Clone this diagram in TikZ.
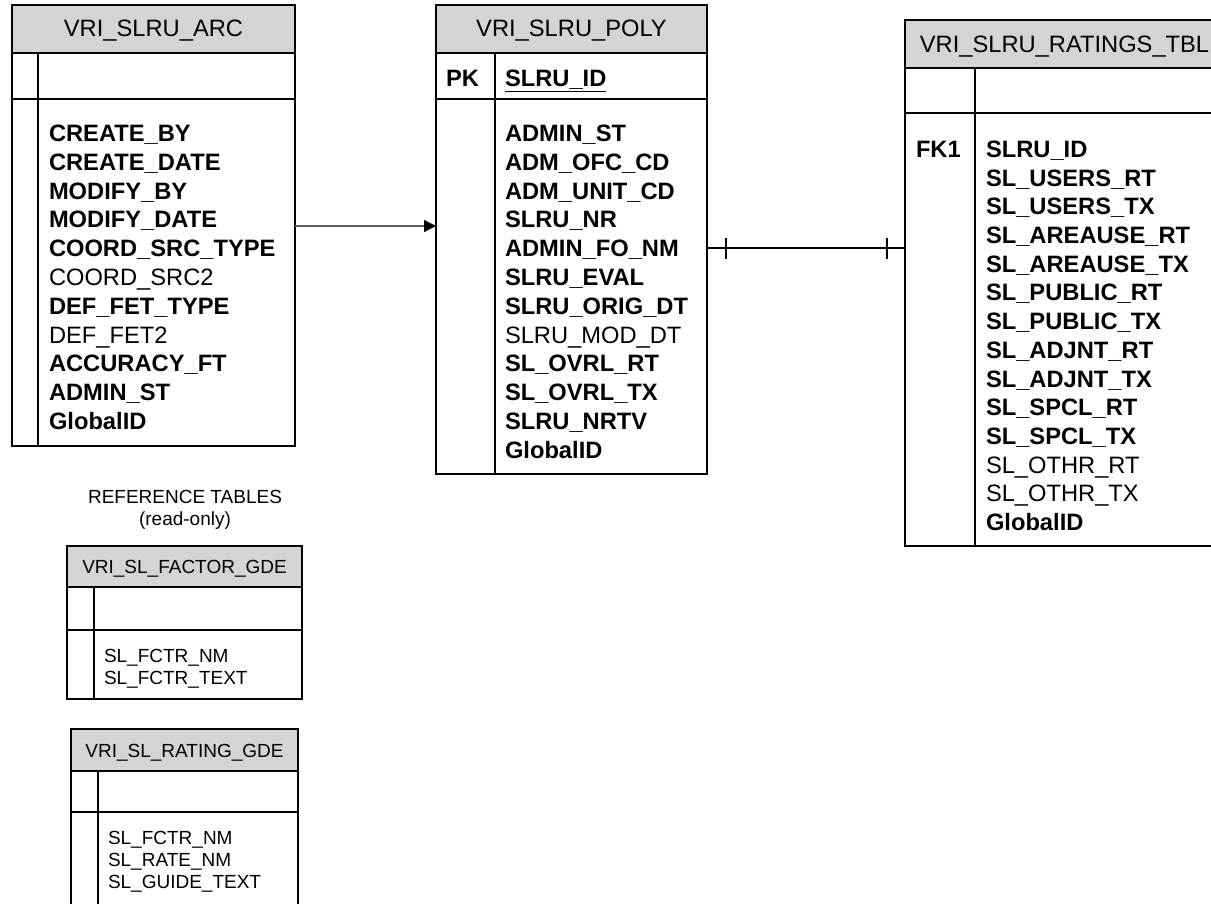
\documentclass[tikz,border=0pt]{standalone}
\usepackage{fontspec}
\setmainfont{Liberation Sans}
\usetikzlibrary{arrows.meta}
\definecolor{hdrgray}{RGB}{212,212,212}
\definecolor{arrowgray}{RGB}{95,95,95}
\begin{document}
\begin{tikzpicture}[x=1pt,y=-1pt,
  tblbox/.style={draw=black,line width=1.7pt,fill=white,rectangle,outer sep=0pt,inner sep=0pt,anchor=north west},
  hdrbox/.style={draw=black,line width=1.7pt,fill=hdrgray,rectangle,outer sep=0pt,inner sep=0pt,anchor=north west},
  tline/.style={draw=black,line width=1.7pt},
  bigtxt/.style={inner sep=0pt,outer sep=0pt,anchor=west,font=\fontsize{23.7}{28}\selectfont,text height=17pt,text depth=0pt},
  bighdr/.style={bigtxt,anchor=center},
  smalltxt/.style={inner sep=0pt,outer sep=0pt,anchor=west,font=\fontsize{19}{22}\selectfont,text height=13.6pt,text depth=0pt},
  smallhdr/.style={smalltxt,anchor=center},
  reltick/.style={draw=black,line width=2.8pt},
  relline/.style={draw=black,line width=2.2pt},
  refarrow/.style={draw=arrowgray,line width=1.2pt,-{Triangle[length=12pt,width=12pt,color=black]}}
]
\path[use as bounding box] (0,0) rectangle (1211,904);
\clip (0,0) rectangle (1211,904);
\fill[white] (0,0) rectangle (1211,904);

% ---------- VRI_SLRU_ARC ----------
\node[tblbox,minimum width=283pt,minimum height=441pt] (arc) at (12,5) {};
\node[hdrbox,minimum width=283pt,minimum height=48pt] (arch) at (12,5) {};
\node[bighdr] (arct) at (153.5,28.5) {VRI\_SLRU\_ARC};
\draw[tline] (12,99) -- (295,99);
\draw[tline] (38,53) -- (38,446);
\foreach \t [count=\i from 0] in {\bfseries CREATE\_BY,\bfseries CREATE\_DATE,\bfseries MODIFY\_BY,\bfseries MODIFY\_DATE,\bfseries COORD\_SRC\_TYPE,COORD\_SRC2,\bfseries DEF\_FET\_TYPE,DEF\_FET2,\bfseries ACCURACY\_FT,\bfseries ADMIN\_ST,\bfseries GlobalID}
  \node[bigtxt] (arc-\i) at (49,133+28.8*\i) {\t};

% ---------- VRI_SLRU_POLY ----------
\node[tblbox,minimum width=271pt,minimum height=469pt] (poly) at (436,5) {};
\node[hdrbox,minimum width=271pt,minimum height=48pt] (polyh) at (436,5) {};
\node[bighdr] (polyt) at (571.5,28.5) {VRI\_SLRU\_POLY};
\draw[tline] (436,99) -- (707,99);
\draw[tline] (495,53) -- (495,474);
\node[bigtxt,font=\fontsize{23.7}{28}\selectfont\bfseries] (polypk) at (446,78) {PK};
\node[bigtxt,font=\fontsize{23.7}{28}\selectfont\bfseries] (polyid) at (505,78) {\underline{SLRU\_ID}};
\foreach \t [count=\i from 0] in {\bfseries ADMIN\_ST,\bfseries ADM\_OFC\_CD,\bfseries ADM\_UNIT\_CD,\bfseries SLRU\_NR,\bfseries ADMIN\_FO\_NM,\bfseries SLRU\_EVAL,\bfseries SLRU\_ORIG\_DT,SLRU\_MOD\_DT,\bfseries SL\_OVRL\_RT,\bfseries SL\_OVRL\_TX,\bfseries SLRU\_NRTV,\bfseries GlobalID}
  \node[bigtxt] (poly-\i) at (505,133+28.8*\i) {\t};

% ---------- VRI_SLRU_RATINGS_TBL ----------
\node[tblbox,minimum width=319pt,minimum height=526pt] (rat) at (905,20) {};
\node[hdrbox,minimum width=319pt,minimum height=48pt] (rath) at (905,20) {};
\node[bighdr] (ratt) at (1064.5,44) {VRI\_SLRU\_RATINGS\_TBL};
\draw[tline] (905,113) -- (1224,113);
\draw[tline] (975,68) -- (975,546);
\node[bigtxt,font=\fontsize{23.7}{28}\selectfont\bfseries] (ratfk) at (916,149) {FK1};
\foreach \t [count=\i from 0] in {\bfseries SLRU\_ID,\bfseries SL\_USERS\_RT,\bfseries SL\_USERS\_TX,\bfseries SL\_AREAUSE\_RT,\bfseries SL\_AREAUSE\_TX,\bfseries SL\_PUBLIC\_RT,\bfseries SL\_PUBLIC\_TX,\bfseries SL\_ADJNT\_RT,\bfseries SL\_ADJNT\_TX,\bfseries SL\_SPCL\_RT,\bfseries SL\_SPCL\_TX,SL\_OTHR\_RT,SL\_OTHR\_TX,\bfseries GlobalID}
  \node[bigtxt] (rat-\i) at (986,149+28.7*\i) {\t};

% ---------- reference tables ----------
\node[smallhdr] (reftitle) at (185,497) {REFERENCE TABLES};
\node[smallhdr] (refsub) at (185,519) {(read-only)};

\node[tblbox,minimum width=235pt,minimum height=153pt] (fac) at (67,546) {};
\node[hdrbox,minimum width=235pt,minimum height=41pt] (fach) at (67,546) {};
\node[smallhdr] (fact) at (184.5,567) {VRI\_SL\_FACTOR\_GDE};
\draw[tline] (67,630) -- (302,630);
\draw[tline] (94,587) -- (94,699);
\foreach \t [count=\i from 0] in {SL\_FCTR\_NM,SL\_FCTR\_TEXT}
  \node[smalltxt] (fac-\i) at (104,656+21.5*\i) {\t};

\node[tblbox,minimum width=227pt,minimum height=200pt] (rgd) at (71,729) {};
\node[hdrbox,minimum width=227pt,minimum height=42pt] (rgdh) at (71,729) {};
\node[smallhdr] (rgdt) at (184.5,750.5) {VRI\_SL\_RATING\_GDE};
\draw[tline] (71,812) -- (298,812);
\draw[tline] (98,771) -- (98,929);
\foreach \t [count=\i from 0] in {SL\_FCTR\_NM,SL\_RATE\_NM,SL\_GUIDE\_TEXT}
  \node[smalltxt] (rgd-\i) at (108,838+22*\i) {\t};

% ---------- connectors ----------
\draw[refarrow] ([yshift=-221pt]arc.north east) -- ([yshift=-221pt]poly.north west);
\draw[relline] (poly.east |- poly-4) -- (rat.west |- poly-4);
\draw[reltick] ([xshift=19pt]poly.east |- poly-4) ++(0,-10.5) -- ++(0,21);
\draw[reltick] ([xshift=-18pt]rat.west |- poly-4) ++(0,-10.5) -- ++(0,21);
\end{tikzpicture}
\end{document}
